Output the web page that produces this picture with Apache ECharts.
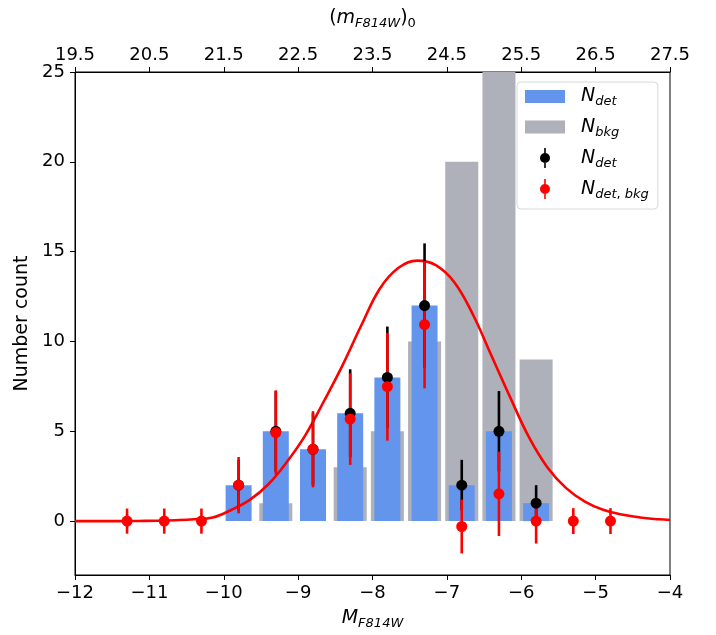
<!DOCTYPE html>
<html>
<head>
<meta charset="utf-8">
<script src="https://cdn.jsdelivr.net/npm/echarts@6/dist/echarts.min.js"></script>
<style>html,body{margin:0;padding:0;background:#fff;}#c{width:716px;height:635px;}</style>
</head>
<body>
<div id="c"></div>
<script>
// ---- data ----
const binX = [-9.8, -9.3, -8.8, -8.3, -7.8, -7.3, -6.8, -6.3, -5.8];
const detCounts = [2, 5, 4, 6, 8, 12, 2, 5, 1];
const bkgCounts = [0, 1, 0, 3, 5, 10, 20, 27, 9];
const detErr = [1.41, 2.24, 2.0, 2.45, 2.83, 3.46, 1.41, 2.24, 1.0];

const redX = [-11.3, -10.8, -10.3, -9.8, -9.3, -8.8, -8.3, -7.8, -7.3, -6.8, -6.3, -5.8, -5.3, -4.8];
const redY = [0, 0, 0, 2.0, 4.93, 4.0, 5.68, 7.48, 10.94, -0.3, 1.52, 0, 0, 0];
const redErr = [0.7, 0.7, 0.7, 1.57, 2.35, 2.12, 2.55, 3.0, 3.55, 1.5, 2.35, 1.25, 0.72, 0.72];

const fitX = [-12, -11.9, -11.65, -11.4, -11.15, -10.9, -10.65, -10.4, -10.15, -9.9, -9.65, -9.4, -9.15, -8.9, -8.65, -8.4, -8.15, -7.9, -7.65, -7.4, -7.15, -6.9, -6.65, -6.4, -6.15, -5.9, -5.65, -5.4, -5.15, -4.9, -4.65, -4.4, -4.15, -4];
const fitY = [0, 0, 0, 0, 0.01, 0.02, 0.05, 0.1, 0.2, 0.62, 1.18, 2.05, 3.3, 4.8, 6.7, 8.7, 10.9, 12.95, 14.1, 14.5, 14.25, 13.3, 11.5, 9.2, 6.9, 4.7, 3.0, 1.85, 1.1, 0.63, 0.37, 0.2, 0.1, 0.06];

const xTicks = [-12, -11, -10, -9, -8, -7, -6, -5, -4];
const topTickLabels = ['19.5', '20.5', '21.5', '22.5', '23.5', '24.5', '25.5', '26.5', '27.5'];
const yTicks = [0, 5, 10, 15, 20, 25];

// ---- chart ----
const FONT = 'DejaVu Sans';
const BLUE = '#6495ed';
const GRAY = '#aeb0ba';
const RED = '#ff0000';
const BLACK = '#000000';

const chart = echarts.init(document.getElementById('c'), null, {renderer: 'canvas'});

function errRender(color) {
  return function (params, api) {
    const x = api.value(0), y = api.value(1), e = api.value(2);
    const p1 = api.coord([x, y + e]);
    const p2 = api.coord([x, y - e]);
    return {
      type: 'line',
      shape: {x1: p1[0], y1: p1[1], x2: p2[0], y2: p2[1]},
      style: {stroke: color, lineWidth: 2.6}
    };
  };
}

const pair = (xs, ys) => xs.map((x, i) => [x, ys[i]]);
const triple = (xs, ys, es) => xs.map((x, i) => [x, ys[i], es[i]]);

const subRich = {
  n: {fontFamily: FONT, fontStyle: 'italic', fontSize: 19, color: '#000'},
  s: {fontFamily: FONT, fontStyle: 'italic', fontSize: 13, color: '#000', padding: [11, 0, 0, 0]},
  c: {fontFamily: FONT, fontSize: 13, color: '#000', padding: [11, 0, 0, 0]}
};

const legendText = {
  NdetBar: '{n|N}{s|det}',
  Nbkg: '{n|N}{s|bkg}',
  NdetPt: '{n|N}{s|det}',
  NdetBkg: '{n|N}{s|det}{c|,}{s| bkg}'
};

const barIcon = 'path://M0,0H40V13H0Z';
const errIcon = 'path://M4.2,0H5.8V20H4.2Z M0,10A5,5 0 1 1 10,10A5,5 0 1 1 0,10Z';

const option = {
  backgroundColor: '#fff',
  animation: false,
  grid: {left: 75, right: 46, top: 72, bottom: 58, show: true, borderColor: '#000', borderWidth: 1, backgroundColor: 'transparent'},
  legend: {
    orient: 'vertical',
    left: 517,
    top: 82,
    padding: [5, 9, 8, 8],
    itemGap: 9,
    itemWidth: 40,
    itemHeight: 20,
    backgroundColor: 'rgba(255,255,255,0.85)',
    borderColor: '#d8d8d8',
    borderWidth: 1,
    borderRadius: 4,
    selectedMode: false,
    textStyle: {fontFamily: FONT, fontSize: 19, color: '#000', padding: [0, 0, 0, 11], rich: subRich},
    formatter: name => legendText[name],
    data: [
      {name: 'NdetBar', icon: barIcon, itemStyle: {color: BLUE}},
      {name: 'Nbkg', icon: barIcon, itemStyle: {color: GRAY}},
      {name: 'NdetPt', icon: errIcon, itemStyle: {color: BLACK}},
      {name: 'NdetBkg', icon: errIcon, itemStyle: {color: RED}}
    ]
  },
  xAxis: [
    {
      type: 'value', position: 'bottom', min: -12, max: -4, interval: 1,
      name: '{i|M}{s|F814W}', nameLocation: 'middle', nameGap: 31,
      nameTextStyle: {rich: {
        i: {fontFamily: FONT, fontStyle: 'italic', fontSize: 19, color: '#000'},
        s: {fontFamily: FONT, fontStyle: 'italic', fontSize: 13, color: '#000', padding: [11, 0, 0, 0]}
      }},
      axisLine: {show: true, onZero: false, lineStyle: {color: '#000', width: 1}},
      axisTick: {show: true, inside: false, length: 5, lineStyle: {color: '#000', width: 1}},
      axisLabel: {color: '#000', fontFamily: FONT, fontSize: 18, margin: 9,
        formatter: v => (v < 0 ? '\u2212' + Math.abs(v) : String(v))},
      splitLine: {show: false}
    },
    {
      type: 'value', position: 'top', min: -12, max: -4, interval: 1,
      name: '{p|(}{i|m}{s|F814W}{p|)}{u|0}', nameLocation: 'middle', nameGap: 42,
      nameTextStyle: {rich: {
        p: {fontFamily: FONT, fontSize: 19, color: '#000'},
        i: {fontFamily: FONT, fontStyle: 'italic', fontSize: 19, color: '#000'},
        s: {fontFamily: FONT, fontStyle: 'italic', fontSize: 13, color: '#000', padding: [11, 0, 0, 0]},
        u: {fontFamily: FONT, fontSize: 13, color: '#000', padding: [11, 0, 0, 0]}
      }},
      axisLine: {show: true, onZero: false, lineStyle: {color: '#000', width: 1}},
      axisTick: {show: true, inside: false, length: 5, lineStyle: {color: '#000', width: 1}},
      axisLabel: {color: '#000', fontFamily: FONT, fontSize: 18, margin: 8,
        formatter: v => topTickLabels[xTicks.indexOf(v)] || ''},
      splitLine: {show: false}
    }
  ],
  yAxis: {
    type: 'value', min: -3, max: 25,
    name: 'Number count', nameLocation: 'middle', nameGap: 41, nameRotate: 90,
    nameTextStyle: {fontFamily: FONT, fontSize: 19, color: '#000'},
    axisLine: {show: true, onZero: false, lineStyle: {color: '#000', width: 1}},
    axisTick: {show: true, inside: false, length: 5, customValues: yTicks, lineStyle: {color: '#000', width: 1}},
    axisLabel: {color: '#000', fontFamily: FONT, fontSize: 18, margin: 10, customValues: yTicks},
    splitLine: {show: false}
  },
  series: [
    {
      name: 'Nbkg', type: 'bar', xAxisIndex: 1, yAxisIndex: 0,
      barWidth: 33, itemStyle: {color: GRAY}, z: 1,
      data: pair(binX, bkgCounts)
    },
    {
      name: 'NdetBar', type: 'bar', xAxisIndex: 0, yAxisIndex: 0,
      barWidth: 26, itemStyle: {color: BLUE}, z: 2,
      data: pair(binX, detCounts)
    },
    {
      name: 'fit', type: 'line', smooth: 0.4, showSymbol: false, symbol: 'none', z: 3,
      lineStyle: {color: RED, width: 2.6}, itemStyle: {color: RED},
      data: pair(fitX, fitY)
    },
    {
      name: 'NdetPt', type: 'custom', z: 4, itemStyle: {color: BLACK},
      renderItem: errRender(BLACK), encode: {x: 0, y: 1},
      data: triple(binX, detCounts, detErr)
    },
    {
      name: 'NdetBkg', type: 'custom', z: 5, itemStyle: {color: RED},
      renderItem: errRender(RED), encode: {x: 0, y: 1},
      data: triple(redX, redY, redErr)
    },
    {
      name: 'NdetPt', type: 'scatter', z: 6, symbol: 'circle', symbolSize: 11,
      itemStyle: {color: BLACK, opacity: 1},
      data: pair(binX, detCounts)
    },
    {
      name: 'NdetBkg', type: 'scatter', z: 7, symbol: 'circle', symbolSize: 11,
      itemStyle: {color: RED, opacity: 1},
      data: pair(redX, redY)
    }
  ]
};

chart.setOption(option);
</script>
</body>
</html>
